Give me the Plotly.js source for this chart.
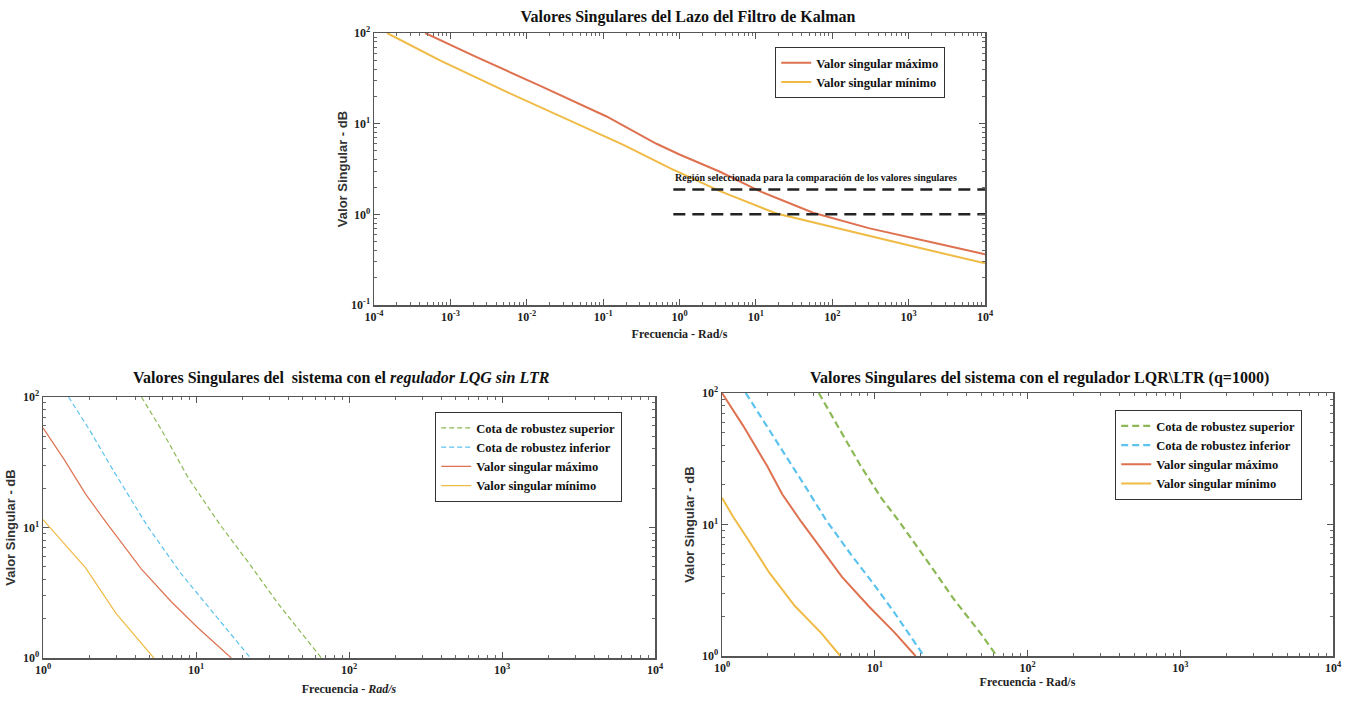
<!DOCTYPE html>
<html><head><meta charset="utf-8">
<script src="https://cdn.plot.ly/plotly-3.0.1.min.js"></script>
<style>html,body{margin:0;padding:0;background:#fff}#chart{width:1353px;height:708px}</style>
</head><body><div id="chart"></div>
<script>
// ---------- Top chart: Kalman filter loop ----------
const kalmanMaxFreq = [0.000468, 0.002, 0.0148, 0.111, 0.5, 1, 3.39, 11.2, 56.2, 309, 2290, 10000];
const kalmanMaxVal  = [100, 56.2, 26.3, 12.0, 6.0, 4.57, 2.95, 1.80, 1.04, 0.70, 0.48, 0.363];
const kalmanMinFreq = [0.000148, 0.00073, 0.00546, 0.0407, 0.1845, 0.75, 3.39, 18.6, 112, 851, 10000];
const kalmanMinVal  = [100, 50, 22.4, 10.5, 5.83, 3.24, 1.80, 1.02, 0.715, 0.47, 0.288];
const regionFreq = [0.83, 10000];
const regionUpper = [1.88, 1.88];
const regionLower = [1, 1];

// ---------- Bottom-left: LQG without LTR ----------
const lqgSupFreq = [4.4, 6, 8.9, 14.2, 22, 34.5, 66];
const lqgSupVal  = [100, 55, 24, 10.7, 5.4, 2.6, 1];
const lqgInfFreq = [1.47, 2.03, 2.9, 4.8, 7.9, 11.6, 22.7];
const lqgInfVal  = [100, 55, 27, 10.3, 4.5, 2.6, 1];
const lqgMaxFreq = [1, 1.38, 1.9, 2.55, 4.4, 6.9, 10.2, 17];
const lqgMaxVal  = [58, 33, 18, 11.2, 4.8, 2.7, 1.72, 1];
const lqgMinFreq = [1, 1.9, 3.0, 5.3];
const lqgMinVal  = [11.5, 4.9, 2.2, 1];

// ---------- Bottom-right: LQR\LTR (q=1000) ----------
const ltrSupFreq = [4.3, 5.76, 8, 11, 14.5, 22.5, 33, 49, 63];
const ltrSupVal  = [100, 56, 28.5, 16, 10.5, 5.1, 2.7, 1.5, 1];
const ltrInfFreq = [1.43, 1.91, 2.65, 3.66, 4.8, 7.0, 9.7, 13.4, 21];
const ltrInfVal  = [100, 59, 33, 18, 10.8, 5.9, 3.6, 2.15, 1];
const ltrMaxFreq = [1, 1.38, 1.98, 2.48, 3.3, 4.75, 6.1, 9.1, 13.4, 18.5];
const ltrMaxVal  = [100, 56, 27.7, 17, 10.5, 5.9, 4.0, 2.4, 1.52, 1];
const ltrMinFreq = [1, 1.18, 1.47, 2.04, 3.0, 4.45, 5.95];
const ltrMinVal  = [16, 11.5, 7.8, 4.3, 2.4, 1.5, 1];

// tick exponents
const topXExp = [-4, -3, -2, -1, 0, 1, 2, 3, 4];
const topYExp = [-1, 0, 1, 2];
const botXExp = [0, 1, 2, 3, 4];
const botYExp = [0, 1, 2];

const legendNames = ['Cota de robustez superior', 'Cota de robustez inferior', 'Valor singular máximo', 'Valor singular mínimo'];

const C_MAX = '#de7250', C_MIN = '#efbb45', C_INF = '#5cc3ee', C_SUP = '#8cb955';
const SERIF = 'Liberation Serif';

function tickSet(exps){
  return {vals: exps.map(e => Math.pow(10, e)), text: exps.map(e => '10<sup>' + e + '</sup>')};
}
function minorSet(exps){
  const v = [];
  for (let i = 0; i < exps.length - 1; i++)
    for (let j = 2; j <= 9; j++) v.push(j * Math.pow(10, exps[i]));
  return v;
}
function makeAxis(domain, exps, anchor, title){
  const t = tickSet(exps);
  return {
    type: 'log', domain: domain, anchor: anchor,
    range: [exps[0], exps[exps.length - 1]],
    tickmode: 'array', tickvals: t.vals, ticktext: t.text,
    ticks: 'inside', ticklen: 6, tickwidth: 1, tickcolor: '#555',
    showline: true, linecolor: '#555', linewidth: 1.5, mirror: 'ticks',
    showgrid: false, zeroline: false,
    tickfont: {family: SERIF, size: 12, color: '#222', weight: 'bold'},
    minor: {tickmode: 'array', tickvals: minorSet(exps), ticks: 'inside', ticklen: 3, tickcolor: '#666', showgrid: false},
    title: title, automargin: false
  };
}
const xTitleFont = {family: SERIF, size: 12, color: '#222', weight: 'bold'};
const yTitleFont = {family: 'Liberation Sans', size: 13, color: '#333', weight: 'bold'};

const traces = [
  // top
  {x: kalmanMaxFreq, y: kalmanMaxVal, xaxis: 'x', yaxis: 'y', mode: 'lines', name: legendNames[2], legend: 'legend',
   line: {color: C_MAX, width: 2}},
  {x: kalmanMinFreq, y: kalmanMinVal, xaxis: 'x', yaxis: 'y', mode: 'lines', name: legendNames[3], legend: 'legend',
   line: {color: C_MIN, width: 2}},
  {x: regionFreq, y: regionUpper, xaxis: 'x', yaxis: 'y', mode: 'lines', showlegend: false, hoverinfo: 'skip',
   line: {color: '#222', width: 2.5, dash: '12px,7px'}},
  {x: regionFreq, y: regionLower, xaxis: 'x', yaxis: 'y', mode: 'lines', showlegend: false, hoverinfo: 'skip',
   line: {color: '#222', width: 2.5, dash: '12px,7px'}},
  // bottom-left
  {x: lqgSupFreq, y: lqgSupVal, xaxis: 'x2', yaxis: 'y2', mode: 'lines', name: legendNames[0], legend: 'legend2',
   line: {color: C_SUP, width: 1.2, dash: '5px,3px'}},
  {x: lqgInfFreq, y: lqgInfVal, xaxis: 'x2', yaxis: 'y2', mode: 'lines', name: legendNames[1], legend: 'legend2',
   line: {color: C_INF, width: 1.2, dash: '5px,3px'}},
  {x: lqgMaxFreq, y: lqgMaxVal, xaxis: 'x2', yaxis: 'y2', mode: 'lines', name: legendNames[2], legend: 'legend2',
   line: {color: C_MAX, width: 1.2}},
  {x: lqgMinFreq, y: lqgMinVal, xaxis: 'x2', yaxis: 'y2', mode: 'lines', name: legendNames[3], legend: 'legend2',
   line: {color: C_MIN, width: 1.2}},
  // bottom-right
  {x: ltrSupFreq, y: ltrSupVal, xaxis: 'x3', yaxis: 'y3', mode: 'lines', name: legendNames[0], legend: 'legend3',
   line: {color: C_SUP, width: 2.2, dash: '7px,4px'}},
  {x: ltrInfFreq, y: ltrInfVal, xaxis: 'x3', yaxis: 'y3', mode: 'lines', name: legendNames[1], legend: 'legend3',
   line: {color: C_INF, width: 2.2, dash: '7px,4px'}},
  {x: ltrMaxFreq, y: ltrMaxVal, xaxis: 'x3', yaxis: 'y3', mode: 'lines', name: legendNames[2], legend: 'legend3',
   line: {color: C_MAX, width: 2}},
  {x: ltrMinFreq, y: ltrMinVal, xaxis: 'x3', yaxis: 'y3', mode: 'lines', name: legendNames[3], legend: 'legend3',
   line: {color: C_MIN, width: 2}}
];

const legendBase = {bgcolor: '#fff', bordercolor: '#333', borderwidth: 1.2, xanchor: 'left', yanchor: 'top',
  font: {family: SERIF, size: 12.5, color: '#111', weight: 'bold'}, tracegroupgap: 0};

const layout = {
  width: 1353, height: 708,
  margin: {l: 0, r: 0, t: 0, b: 0},
  paper_bgcolor: '#fff', plot_bgcolor: '#fff',
  showlegend: true,
  title: {text: 'Valores Singulares del Lazo del Filtro de Kalman', x: 0.5085, xanchor: 'center',
          y: 1 - 16/708, yanchor: 'middle', yref: 'container',
          font: {family: SERIF, size: 16, color: '#111', weight: 'bold'}},
  xaxis: makeAxis([374/1353, 985/1353], topXExp, 'y',
    {text: 'Frecuencia - Rad/s', font: xTitleFont, standoff: 6}),
  yaxis: makeAxis([1 - 305/708, 1 - 33/708], topYExp, 'x',
    {text: 'Valor Singular - dB', font: yTitleFont, standoff: 0}),
  xaxis2: makeAxis([43/1353, 655/1353], botXExp, 'y2',
    {text: 'Frecuencia - <i>Rad/s</i>', font: xTitleFont, standoff: 8}),
  yaxis2: makeAxis([1 - 658/708, 1 - 397/708], botYExp, 'x2',
    {text: 'Valor Singular - dB', font: yTitleFont, standoff: 4}),
  xaxis3: makeAxis([722/1353, 1333/1353], botXExp, 'y3',
    {text: 'Frecuencia - Rad/s', font: xTitleFont, standoff: 3}),
  yaxis3: makeAxis([1 - 656/708, 1 - 393/708], botYExp, 'x3',
    {text: 'Valor Singular - dB', font: yTitleFont, standoff: 4}),
  legend: Object.assign({}, legendBase, {x: 775/1353, y: 1 - 47/708}),
  legend2: Object.assign({}, legendBase, {x: 435/1353, y: 1 - 412/708}),
  legend3: Object.assign({}, legendBase, {x: 1115/1353, y: 1 - 410/708}),
  annotations: [
    {text: 'Valores Singulares del  sistema con el <i>regulador LQG sin LTR</i>', xref: 'paper', yref: 'paper',
     x: 341/1353, y: 1 - 378/708, xanchor: 'center', yanchor: 'middle', showarrow: false,
     font: {family: SERIF, size: 16, color: '#111', weight: 'bold'}},
    {text: 'Valores Singulares del sistema con el regulador LQR\\LTR (q=1000)', xref: 'paper', yref: 'paper',
     x: 1039/1353, y: 1 - 378/708, xanchor: 'center', yanchor: 'middle', showarrow: false,
     font: {family: SERIF, size: 16, color: '#111', weight: 'bold'}},
    {text: 'Región seleccionada para la comparación de los valores singulares', xref: 'paper', yref: 'paper',
     x: 673/1353, y: 1 - 177/708, xanchor: 'left', yanchor: 'middle', showarrow: false,
     font: {family: SERIF, size: 10, color: '#111', weight: 'bold'}}
  ]
};

Plotly.newPlot('chart', traces, layout, {displayModeBar: false, staticPlot: true});
</script>
</body></html>
